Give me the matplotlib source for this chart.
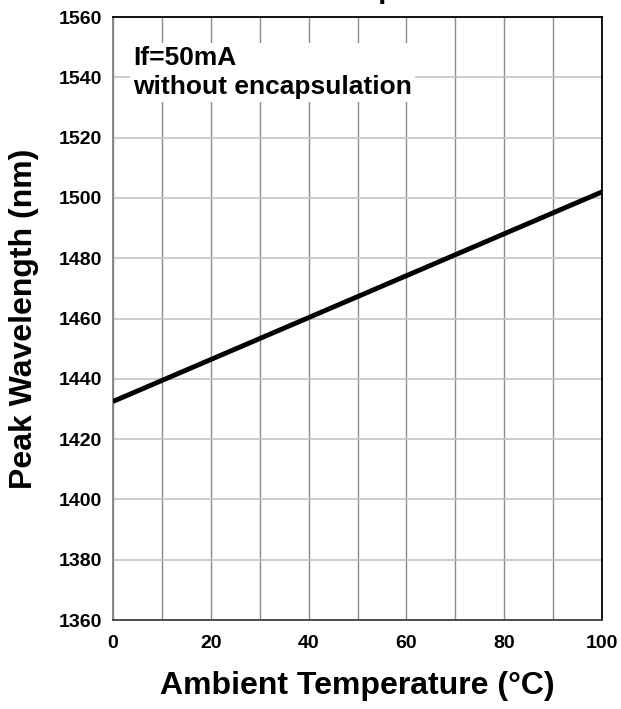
import numpy as np
import matplotlib.pyplot as plt

plt.rcParams['font.family'] = ['Liberation Sans', 'DejaVu Sans']
plt.rcParams['font.weight'] = 'bold'

# line endpoints
temperature = [0, 100]
wavelength = [1432.5, 1502]

x_ticks = [0, 20, 40, 60, 80, 100]
y_ticks = [1360, 1380, 1400, 1420, 1440, 1460, 1480, 1500, 1520, 1540, 1560]

fig = plt.figure(figsize=(6.21, 7.09), dpi=100)
ax = fig.add_axes([0.182, 0.1255, 0.7874, 0.8505])

ax.plot(temperature, wavelength, color='black', linewidth=3.5, solid_capstyle='butt', zorder=3)

ax.set_xlim(0, 100)
ax.set_ylim(1360, 1560)
ax.set_xticks(x_ticks)
ax.set_xticks(np.arange(0, 101, 10), minor=True)
ax.set_yticks(y_ticks)
ax.grid(True, axis='x', which='both', color='#8c8c8c', linewidth=1.0)
ax.grid(True, axis='y', which='major', color='#c4c4c4', linewidth=1.2)
ax.tick_params(which='both', length=0, labelsize=14)
ax.tick_params(axis='x', pad=10.5)
ax.tick_params(axis='y', pad=8)
for lbl in ax.get_xticklabels() + ax.get_yticklabels():
    lbl.set_fontweight('bold')
ax.spines['top'].set_color('black')
ax.spines['right'].set_color('black')
ax.spines['left'].set_color('#808080')
ax.spines['bottom'].set_color('#404040')
for s in ax.spines.values():
    s.set_linewidth(1.3)

ax.set_xlabel('Ambient Temperature (°C)', fontsize=23, fontweight='bold', labelpad=14)
ax.set_ylabel('Peak Wavelength (nm)', fontsize=23, fontweight='bold', labelpad=14)

ax.text(4.1, 1550.5, 'If=50mA\nwithout encapsulation', fontsize=19, fontweight='bold',
        va='top', ha='left', linespacing=1.3,
        bbox=dict(facecolor='white', edgecolor='none', pad=2), zorder=4)

# title is cut off at the top of the image, only a descender shows
fig.text(0.5556, 1.0028, 'Ambient Temperature', fontsize=21, fontweight='bold',
         ha='center', va='baseline')

fig.savefig('out.png', dpi=100)
